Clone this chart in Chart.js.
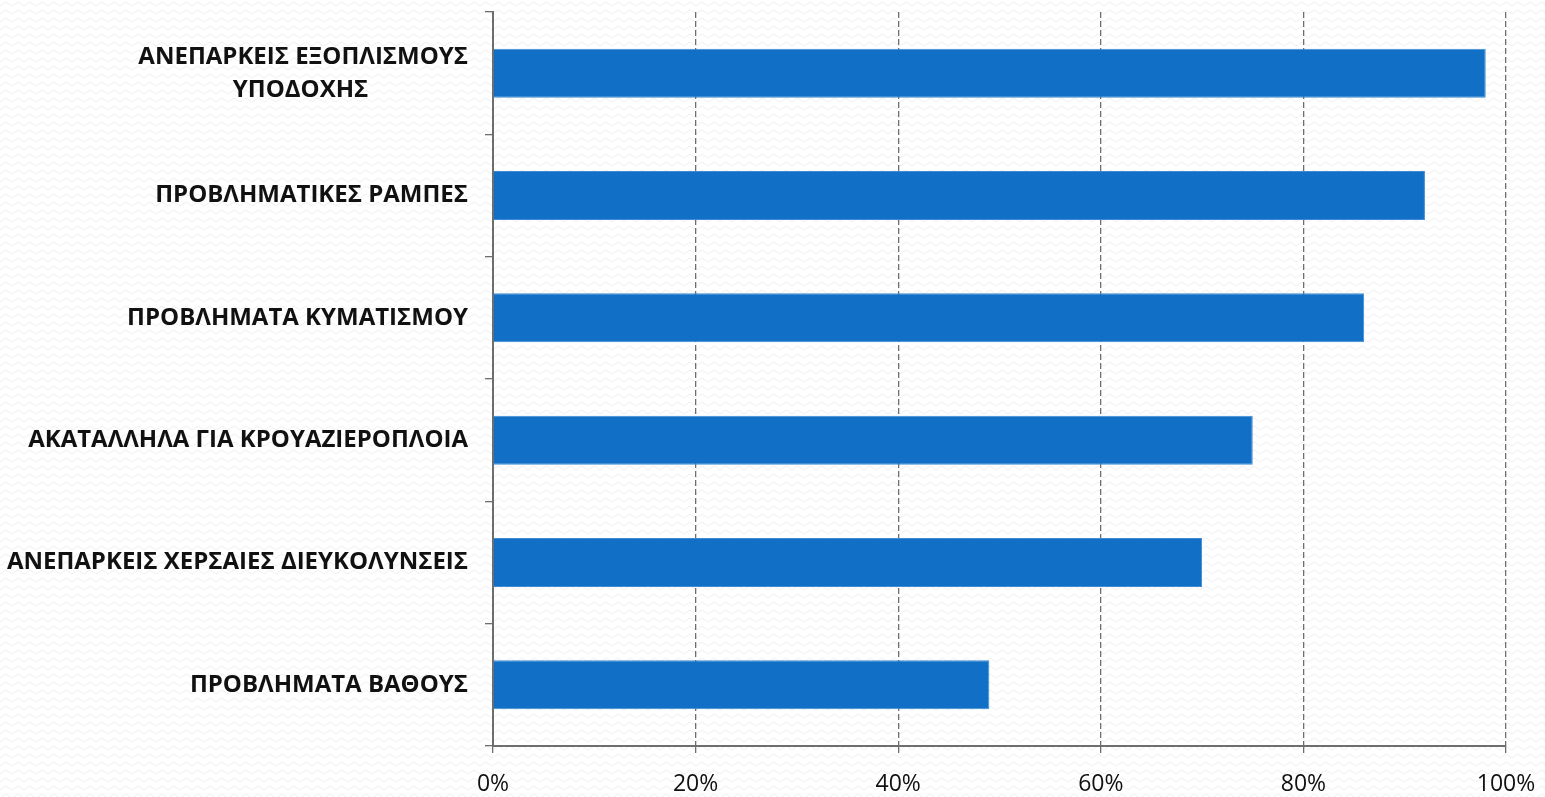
<!DOCTYPE html>
<html>
<head>
<meta charset="utf-8">
<script src="https://cdn.jsdelivr.net/npm/chart.js@4/dist/chart.umd.min.js"></script>
<style>
  html, body { margin: 0; padding: 0; background: #ffffff; }
  #wrap { width: 1545px; height: 797px; }
</style>
</head>
<body>
<div id="wrap"><canvas id="grafico" width="1545" height="797"></canvas></div>
<script>
// categorias (de cima para baixo)
var categorias = [
    ['ΑΝΕΠΑΡΚΕΙΣ ΕΞΟΠΛΙΣΜΟΥΣ', 'ΥΠΟΔΟΧΗΣ'],
    'ΠΡΟΒΛΗΜΑΤΙΚΕΣ ΡΑΜΠΕΣ',
    'ΠΡΟΒΛΗΜΑΤΑ ΚΥΜΑΤΙΣΜΟΥ',
    'ΑΚΑΤΑΛΛΗΛΑ ΓΙΑ ΚΡΟΥΑΖΙΕΡΟΠΛΟΙΑ',
    'ΑΝΕΠΑΡΚΕΙΣ ΧΕΡΣΑΙΕΣ ΔΙΕΥΚΟΛΥΝΣΕΙΣ',
    'ΠΡΟΒΛΗΜΑΤΑ ΒΑΘΟΥΣ'
];
var valores = [98, 92, 86, 75, 70, 49];
var ticksX = [0, 20, 40, 60, 80, 100];

var fonteRotulo = 'bold 24px "Open Sans"';

// centralizar a segunda linha do rótulo (o Chart.js alinha tudo à direita)
function centralizarLinhas(rotulo) {
    if (!Array.isArray(rotulo)) return rotulo;
    var mc = document.createElement('canvas').getContext('2d');
    mc.font = fonteRotulo;
    var maior = Math.max.apply(null, rotulo.map(function(l) { return mc.measureText(l).width; }));
    var esp = mc.measureText('\u00a0').width;
    return rotulo.map(function(l) {
        var falta = (maior - mc.measureText(l).width) / 2;
        return l + '\u00a0'.repeat(Math.round(falta / esp));
    });
}

// fundo com padrão leve em zigue-zague
var fundoPlugin = {
    id: 'fundo',
    beforeDraw: function(chart) {
        var ctx = chart.ctx;
        var p = document.createElement('canvas');
        p.width = 12; p.height = 8;
        var pc = p.getContext('2d');
        pc.fillStyle = '#ffffff';
        pc.fillRect(0, 0, 12, 8);
        pc.strokeStyle = '#efefef';
        pc.lineWidth = 1;
        pc.beginPath();
        pc.moveTo(0, 6); pc.lineTo(6, 2); pc.lineTo(12, 6);
        pc.stroke();
        ctx.save();
        ctx.fillStyle = ctx.createPattern(p, 'repeat');
        ctx.fillRect(0, 0, chart.width, chart.height);
        ctx.restore();
    }
};

document.fonts.load(fonteRotulo).then(desenhar, desenhar);

function desenhar() {
    const ctx = document.getElementById('grafico');

    new Chart(ctx, {
        type: 'bar',
        data: {
            labels: categorias.map(centralizarLinhas),
            datasets: [{
                data: valores,
                backgroundColor: '#1170c6',
                borderColor: '#3f8ad2',
                borderWidth: 1,
                barPercentage: 0.4,
                categoryPercentage: 1
            }]
        },
        options: {
            indexAxis: 'y',
            responsive: false,
            animation: false,
            layout: { padding: { top: 12, right: 39, left: 0, bottom: 0 } },
            plugins: {
                legend: { display: false },
                tooltip: { enabled: false }
            },
            scales: {
                x: {
                    min: 0,
                    max: 100,
                    afterBuildTicks: function(scale) {
                        scale.ticks = ticksX.map(function(v) { return { value: v }; });
                    },
                    afterFit: function(scale) {
                        scale.height = 51;
                        scale.paddingLeft = 0;
                        scale.paddingRight = 0;
                    },
                    border: { display: true, color: '#6e6e6e', width: 2, dash: [6, 3] },
                    grid: {
                        color: '#6e6e6e',
                        lineWidth: 1.3,
                        tickLength: 7,
                        tickColor: '#6e6e6e',
                        tickBorderDash: [0, 0]
                    },
                    ticks: {
                        color: '#111',
                        padding: 18,
                        font: { family: 'Open Sans', size: 23 },
                        callback: function(v) { return v + '%'; }
                    }
                },
                y: {
                    afterFit: function(scale) {
                        scale.width = 493;
                        scale.paddingTop = 0;
                        scale.paddingBottom = 0;
                    },
                    border: { display: true, color: '#6e6e6e', width: 2 },
                    grid: {
                        drawOnChartArea: false,
                        tickLength: 8,
                        color: '#6e6e6e',
                        lineWidth: 1.3
                    },
                    ticks: {
                        color: '#111',
                        padding: 17,
                        font: { family: 'Open Sans', size: 24, weight: 'bold', lineHeight: 1.375 }
                    }
                }
            }
        },
        plugins: [fundoPlugin]
    });
}
</script>
</body>
</html>
